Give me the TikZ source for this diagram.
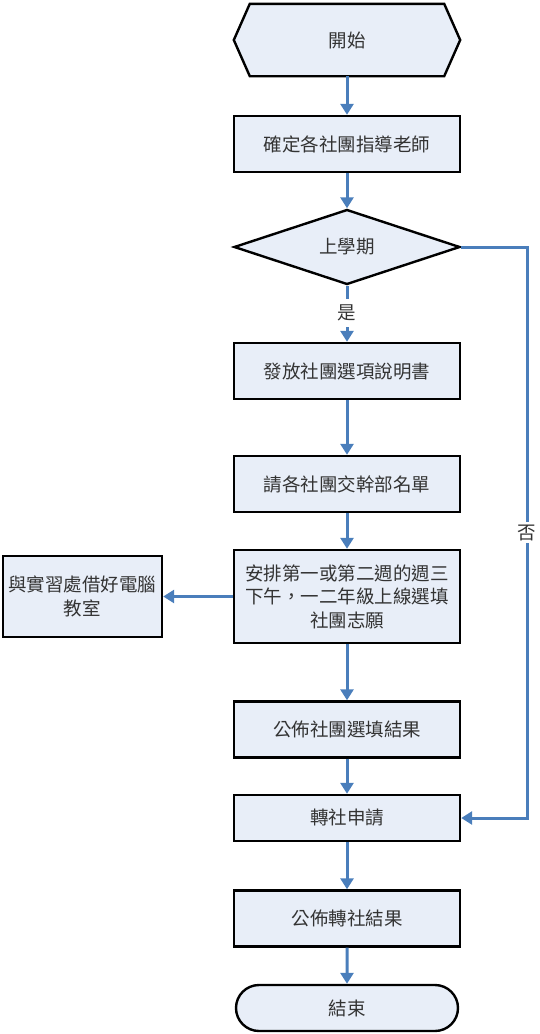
\documentclass[tikz,border=0pt]{standalone}
\usepackage{fontspec}
\setmainfont{Noto Sans CJK TC}
\usetikzlibrary{shapes.geometric,shapes.misc,arrows.meta,backgrounds}
\definecolor{boxfill}{HTML}{E8EEF8}
\definecolor{linkblue}{HTML}{4A7EBB}
\begin{document}
\begin{tikzpicture}[x=1pt,y=-1pt,
  every node/.style={font=\fontsize{18.5}{23.5}\selectfont, text=black!80},
  proc/.style={draw=black, line width=2.4pt, fill=boxfill, minimum width=226pt, minimum height=56pt, align=center, inner sep=2pt},
  link/.style={draw=linkblue, line width=3pt, -{Triangle[length=11pt,width=13pt]}},
  plain/.style={draw=linkblue, line width=3pt}]
\useasboundingbox (0,0) rectangle (539,1034);
\node[minimum width=226pt, minimum height=72pt, inner sep=0pt] (start) at (347,40) {開始};
\begin{scope}[on background layer]
\draw[line width=2.4pt, fill=boxfill, line join=miter]
  (start.west) -- ([xshift=16pt]start.north west) -- ([xshift=-16pt]start.north east)
  -- (start.east) -- ([xshift=-16pt]start.south east) -- ([xshift=16pt]start.south west) -- cycle;
\end{scope}
\node[proc] (b1) at (347,144) {確定各社團指導老師};
\node[proc, diamond, aspect=3.0, minimum width=226pt, minimum height=75pt, inner sep=0pt] (d) at (347,247) {上學期};
\node[proc] (b2) at (347,371) {發放社團選項說明書};
\node[proc] (b3) at (347,484) {請各社團交幹部名單};
\node[proc, minimum height=93pt] (b4) at (347,596.5) {安排第一或第二週的週三\\下午，一二年級上線選填\\社團志願};
\node[proc, minimum width=159pt, minimum height=81pt] (side) at (82.5,596.5) {與實習處借好電腦\\教室};
\node[proc] (b5) at (347,729.5) {公佈社團選填結果};
\node[proc, minimum height=46pt] (b6) at (347,818) {轉社申請};
\node[proc] (b7) at (347,918.5) {公佈轉社結果};
\node[proc, rounded rectangle, minimum height=46pt] (end) at (347,1008) {結束};
\coordinate (r1) at (527,247);
\coordinate (r2) at (527,818);
\draw[link] (start) -- (b1);
\draw[link] (b1) -- (d);
\draw[plain] (d.south) -- (347,299);
\node (yes) at (347,313) {是};
\draw[link] (347,327) -- (b2);
\draw[link] (b2) -- (b3);
\draw[link] (b3) -- (b4);
\draw[link] (b4) -- (side);
\draw[link] (b4) -- (b5);
\draw[link] (b5) -- (b6);
\draw[link] (b6) -- (b7);
\draw[link] (b7) -- (end);
\draw[link] (d.east) -- (r1) -- node[fill=white, inner sep=3pt] (no) {否} (r2) -- (b6.east);
\end{tikzpicture}
\end{document}
